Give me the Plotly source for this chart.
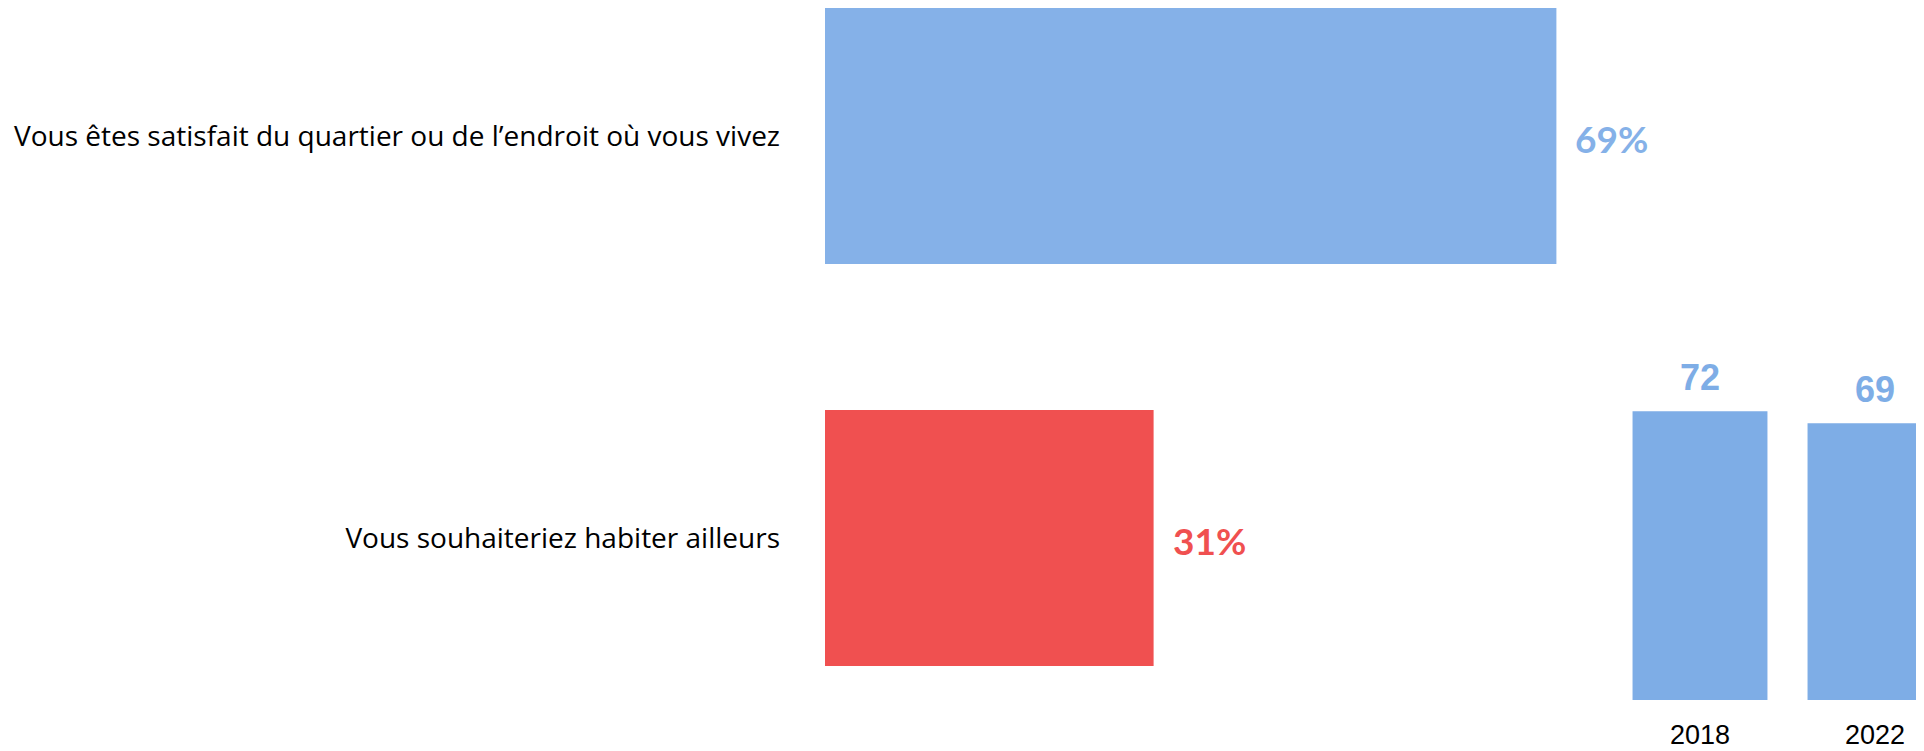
import plotly.graph_objects as go

# Data
categories = ["Vous êtes satisfait du quartier ou de l’endroit où vous vivez",
              "Vous souhaiteriez habiter ailleurs"]
values = [69, 31]
bar_colors = ["#85B1E8", "#F05050"]

years = ["2018", "2022"]
trend = [72, 69]
trend_color = "#7EADE6"

# page body margin of the browser (8px) is compensated for
OFF = 8
W, H = 1924 - OFF, 751 - OFF


def px_x(p):
    return (p - OFF) / W


def px_y(p):
    return 1 - (p - OFF) / H


fig = go.Figure()

fig.add_trace(go.Bar(
    y=categories, x=values, orientation="h",
    marker=dict(color=bar_colors, line=dict(width=0)),
    width=0.637, xaxis="x", yaxis="y", hoverinfo="skip", showlegend=False,
))

fig.add_trace(go.Bar(
    x=years, y=trend,
    marker=dict(color=trend_color, line=dict(width=0)),
    width=0.771, xaxis="x2", yaxis="y2", hoverinfo="skip", showlegend=False,
))

annotations = []
for i, (v, c) in enumerate(zip(values, bar_colors)):
    annotations.append(dict(
        x=v, y=i, xref="x", yref="y", text=f"{v}%", showarrow=False,
        xanchor="left", yanchor="middle", xshift=17, yshift=-2,
        font=dict(family="Lato", size=37, color=c, weight="bold"),
    ))
for i, v in enumerate(trend):
    annotations.append(dict(
        x=i, y=v, xref="x2", yref="y2", text=str(v), showarrow=False,
        xanchor="center", yanchor="bottom", yshift=11,
        font=dict(family="Liberation Sans", size=36, color=trend_color, weight="bold"),
    ))

fig.update_layout(
    width=W, height=H,
    margin=dict(l=0, r=0, t=0, b=0),
    paper_bgcolor="white", plot_bgcolor="rgba(0,0,0,0)",
    annotations=annotations,
    xaxis=dict(domain=[px_x(825), 1], range=[0, (1924 - 825) / 10.6],
               visible=False, fixedrange=True),
    yaxis=dict(domain=[0, 1], type="category", categoryarray=categories,
               range=[(751 - 136) / 402, -(136 - OFF) / 402],
               showgrid=False, zeroline=False, showline=False, ticks="",
               ticklabelstandoff=44,
               tickfont=dict(family="Open Sans", size=28, color="#000000")),
    xaxis2=dict(domain=[px_x(1612.5), 1], type="category", categoryarray=years,
                range=[-0.5, (1924 - 1700) / 175], anchor="y2",
                showgrid=False, zeroline=False, showline=False, ticks="",
                ticklabelstandoff=16,
                tickfont=dict(family="Liberation Sans", size=27, color="#000000")),
    yaxis2=dict(domain=[px_y(700), 1], range=[0, (700 - OFF) / 4.01], anchor="x2",
                visible=False),
)

fig.write_html("out.html")
